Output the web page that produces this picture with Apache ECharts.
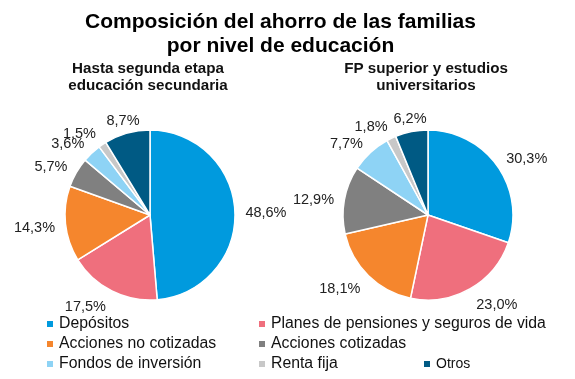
<!DOCTYPE html>
<html><head><meta charset="utf-8">
<script src="https://cdn.jsdelivr.net/npm/echarts@6/dist/echarts.min.js"></script>
<style>html,body{margin:0;padding:0;background:#fff}#c{width:575px;height:379px}</style>
</head><body><div id="c"></div>
<script>
const categories = ["Depósitos","Planes de pensiones y seguros de vida","Acciones no cotizadas","Acciones cotizadas","Fondos de inversión","Renta fija","Otros"];
const colors = ["#009ADE","#EF6F7D","#F5862D","#808080","#8ED3F5","#C8C8C8","#005A84"];
const secundaria = [48.6,17.5,14.3,5.7,3.6,1.5,8.7];
const universitarios = [30.3,23.0,18.1,12.9,7.7,1.8,6.2];
const FONT = "Liberation Sans, Arial, sans-serif";
const GAP = 8;
let chart;

function mk(vals){ return categories.map((n,i)=>({name:n,value:vals[i],itemStyle:{color:colors[i]}})); }
// label placed just outside the slice, pushed sideways like a "best fit" outside label
function placeLabel(p){
  const d = chart.getModel().getSeriesByIndex(p.seriesIndex).getData();
  const L = d.getItemLayout(p.dataIndex);
  const a = (L.startAngle + L.endAngle)/2;
  const ux = Math.cos(a), uy = Math.sin(a);
  const hw = p.labelRect.width/2, hh = p.labelRect.height/2;
  const side = Math.max(0, Math.min(1, (Math.abs(ux)-0.25)*5));
  return {
    x: L.cx + ux*(L.r+GAP) + Math.sign(ux)*1.12*hw*side,
    y: L.cy + uy*(L.r+GAP) + uy*hh + 2.5,
    align:'center', verticalAlign:'middle', hideOverlap:false, moveOverlap:false
  };
}
function pieSeries(name, vals, cx){
  return {
    type:'pie', name, center:[cx,215], radius:85, startAngle:90, clockwise:true,
    avoidLabelOverlap:false,
    data: mk(vals),
    itemStyle:{borderColor:'#fff',borderWidth:1.5},
    label:{show:true,position:'outside',formatter:p=>p.value.toFixed(1).replace('.',',')+'%',
      fontFamily:FONT,fontSize:14.5,color:'#222'},
    labelLine:{show:false,length:8,length2:0},
    labelLayout: placeLabel,
    emphasis:{disabled:true}
  };
}
function leg(items,left,top,fs){
  return {data:items,left,top,padding:0,orient:'horizontal',itemWidth:8,itemHeight:8,itemGap:0,icon:'rect',
    selectedMode:false,textStyle:{fontFamily:FONT,fontSize:fs||15.8,color:'#111'}};
}
function t(s,x,y,fs,fill){
  return {type:'text',x,y,style:{text:s,align:'center',verticalAlign:'middle',font:'bold '+fs+'px '+FONT,fill:fill||'#111'}};
}
chart = echarts.init(document.getElementById('c'));
chart.setOption({
  animation:false,
  graphic:[
    t('Composición del ahorro de las familias',280.5,22,21,'#000'),
    t('por nivel de educación',280.5,46,21,'#000'),
    t('Hasta segunda etapa',148,69,15.2),
    t('educación secundaria',148,86,15.2),
    t('FP superior y estudios',426,69,15.2),
    t('universitarios',426,86,15.2)
  ],
  legend:[
    leg([categories[0]],45,316),
    leg([categories[1]],257,316),
    leg([categories[2]],45,336),
    leg([categories[3]],257,336),
    leg([categories[4]],45,356),
    leg([categories[5]],257,356),
    leg([categories[6]],422,357,14)
  ],
  series:[pieSeries('secundaria',secundaria,150), pieSeries('universitarios',universitarios,428)]
});
</script></body></html>
